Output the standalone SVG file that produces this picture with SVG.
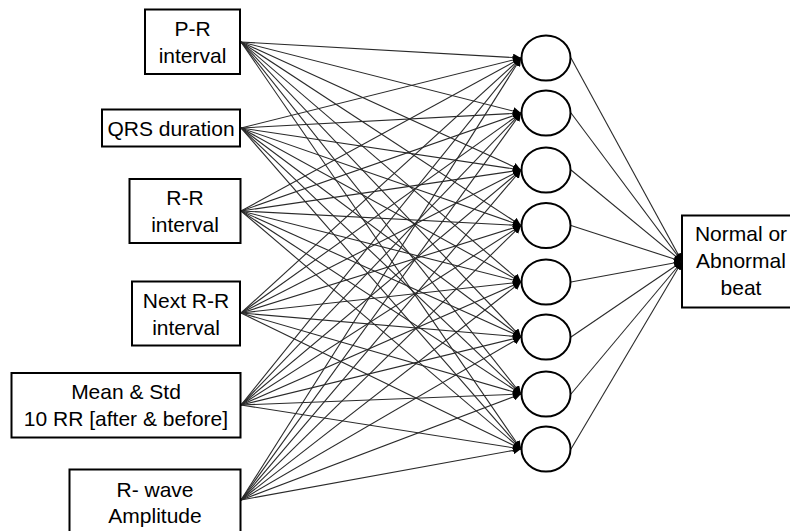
<svg xmlns="http://www.w3.org/2000/svg" width="790" height="531" viewBox="0 0 790 531">
<style>
.box{fill:#fff;stroke:#000;stroke-width:2}
.neuron{fill:#fff;stroke:#000;stroke-width:2}
.lbl{font-family:"Liberation Sans",Arial,sans-serif;font-size:21px;fill:#000;text-anchor:middle}
.c{stroke:#2a2a2a;stroke-width:1.1;fill:none;marker-end:url(#ah)}
</style>
<defs>
<marker id="ah" markerUnits="userSpaceOnUse" markerWidth="8" markerHeight="8" refX="8" refY="4" orient="auto">
<path d="M0,0 L8,4 L0,8 z" fill="#000"/>
</marker>
</defs>
<rect width="790" height="531" fill="#fff"/>
<g id="connectors">
<path class="c" d="M241,42 L521,58"/><path class="c" d="M241,42 L521,113"/><path class="c" d="M241,42 L521,170"/><path class="c" d="M241,42 L521,225.5"/><path class="c" d="M241,42 L521,282"/><path class="c" d="M241,42 L521,337"/><path class="c" d="M241,42 L521,394"/><path class="c" d="M241,42 L521,449"/>
<path class="c" d="M241,128 L521,58"/><path class="c" d="M241,128 L521,113"/><path class="c" d="M241,128 L521,170"/><path class="c" d="M241,128 L521,225.5"/><path class="c" d="M241,128 L521,282"/><path class="c" d="M241,128 L521,337"/><path class="c" d="M241,128 L521,394"/><path class="c" d="M241,128 L521,449"/>
<path class="c" d="M241,211 L521,58"/><path class="c" d="M241,211 L521,113"/><path class="c" d="M241,211 L521,170"/><path class="c" d="M241,211 L521,225.5"/><path class="c" d="M241,211 L521,282"/><path class="c" d="M241,211 L521,337"/><path class="c" d="M241,211 L521,394"/><path class="c" d="M241,211 L521,449"/>
<path class="c" d="M241,313 L521,58"/><path class="c" d="M241,313 L521,113"/><path class="c" d="M241,313 L521,170"/><path class="c" d="M241,313 L521,225.5"/><path class="c" d="M241,313 L521,282"/><path class="c" d="M241,313 L521,337"/><path class="c" d="M241,313 L521,394"/><path class="c" d="M241,313 L521,449"/>
<path class="c" d="M241,405 L521,58"/><path class="c" d="M241,405 L521,113"/><path class="c" d="M241,405 L521,170"/><path class="c" d="M241,405 L521,225.5"/><path class="c" d="M241,405 L521,282"/><path class="c" d="M241,405 L521,337"/><path class="c" d="M241,405 L521,394"/><path class="c" d="M241,405 L521,449"/>
<path class="c" d="M241,500 L521,58"/><path class="c" d="M241,500 L521,113"/><path class="c" d="M241,500 L521,170"/><path class="c" d="M241,500 L521,225.5"/><path class="c" d="M241,500 L521,282"/><path class="c" d="M241,500 L521,337"/><path class="c" d="M241,500 L521,394"/><path class="c" d="M241,500 L521,449"/>
<path class="c" d="M571,58 L682,261.5"/><path class="c" d="M571,113 L682,261.5"/><path class="c" d="M571,170 L682,261.5"/><path class="c" d="M571,225.5 L682,261.5"/><path class="c" d="M571,282 L682,261.5"/><path class="c" d="M571,337 L682,261.5"/><path class="c" d="M571,394 L682,261.5"/><path class="c" d="M571,449 L682,261.5"/>
</g>
<g id="in-pr"><rect class="box" x="145" y="9.5" width="95" height="64.5"/><text class="lbl" x="192.5" y="36">P-R</text><text class="lbl" x="192.5" y="63">interval</text></g>
<g id="in-qrs"><rect class="box" x="102" y="109.5" width="138" height="37"/><text class="lbl" x="171" y="136">QRS duration</text></g>
<g id="in-rr"><rect class="box" x="129.5" y="179" width="111" height="64"/><text class="lbl" x="185" y="205">R-R</text><text class="lbl" x="185" y="232">interval</text></g>
<g id="in-nextrr"><rect class="box" x="132" y="281.5" width="108" height="64"/><text class="lbl" x="186" y="308">Next R-R</text><text class="lbl" x="186" y="335">interval</text></g>
<g id="in-mean"><rect class="box" x="11.5" y="373" width="229" height="64.5"/><text class="lbl" x="126" y="399">Mean &amp; Std</text><text class="lbl" x="126" y="426">10 RR [after &amp; before]</text></g>
<g id="in-rwave"><rect class="box" x="69.5" y="469.5" width="171" height="70"/><text class="lbl" x="155" y="497">R- wave</text><text class="lbl" x="155" y="523">Amplitude</text></g>
<g id="h1"><ellipse class="neuron" cx="546" cy="58" rx="24.5" ry="22.5"/></g>
<g id="h2"><ellipse class="neuron" cx="546" cy="113" rx="24.5" ry="22.5"/></g>
<g id="h3"><ellipse class="neuron" cx="546" cy="170" rx="24.5" ry="22.5"/></g>
<g id="h4"><ellipse class="neuron" cx="546" cy="225.5" rx="24.5" ry="22.5"/></g>
<g id="h5"><ellipse class="neuron" cx="546" cy="282" rx="24.5" ry="22.5"/></g>
<g id="h6"><ellipse class="neuron" cx="546" cy="337" rx="24.5" ry="22.5"/></g>
<g id="h7"><ellipse class="neuron" cx="546" cy="394" rx="24.5" ry="22.5"/></g>
<g id="h8"><ellipse class="neuron" cx="546" cy="449" rx="24.5" ry="22.5"/></g>
<g id="out"><rect class="box" x="682" y="215.5" width="120" height="92"/><text class="lbl" x="741" y="241">Normal or</text><text class="lbl" x="741" y="268">Abnormal</text><text class="lbl" x="741" y="295">beat</text></g>
</svg>
